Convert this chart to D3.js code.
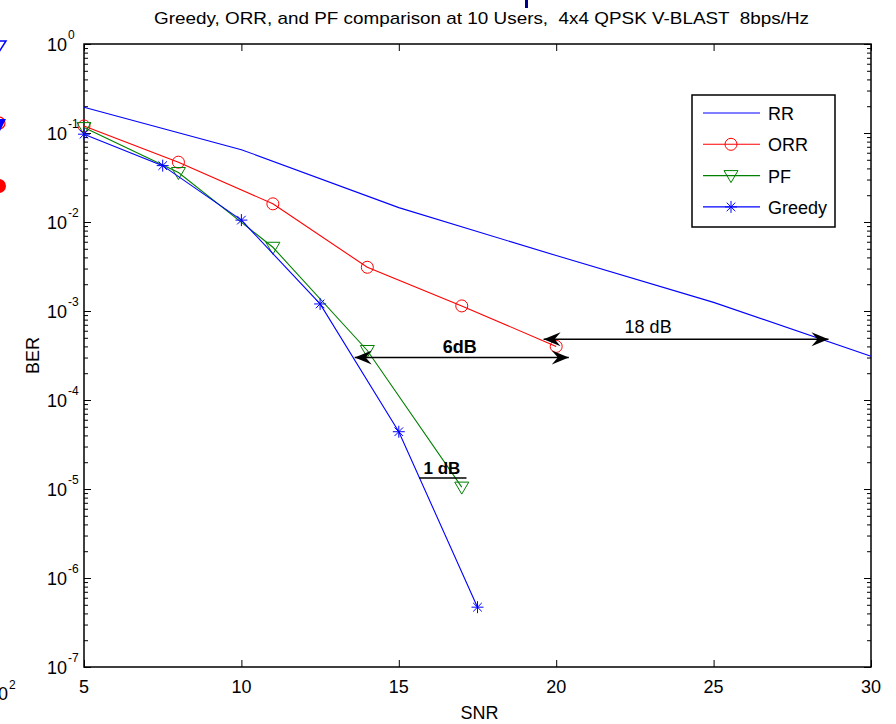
<!DOCTYPE html>
<html>
<head>
<meta charset="utf-8">
<script src="https://cdnjs.cloudflare.com/ajax/libs/d3/7.8.5/d3.min.js"></script>
<style>
body{margin:0;background:#fff;}
svg{display:block;font-family:"Liberation Sans",Arial,sans-serif;}
</style>
</head>
<body>
<svg width="896" height="724"></svg>
<script>
// values
var snrRR = [5, 10, 15, 20, 25, 30];
var berRR = [0.195, 0.065, 0.0145, 0.0042, 0.00125, 0.00031];
var snrORR = [5, 8, 11, 14, 17, 20];
var berORR = [0.12, 0.047, 0.016, 0.0031, 0.00114, 0.0004];
var snrPF = [5, 8, 11, 14, 17];
var berPF = [0.115, 0.036, 0.0052, 0.00036, 0.0000105];
var snrGreedy = [5, 7.5, 10, 12.5, 15, 17.5];
var berGreedy = [0.097, 0.043, 0.0105, 0.0012, 0.000044, 0.00000047];
var xTicks = [5, 10, 15, 20, 25, 30];
var yExps = [0, -1, -2, -3, -4, -5, -6, -7];
var legendNames = ["RR", "ORR", "PF", "Greedy"];
var titleText = "Greedy, ORR, and PF comparison at 10 Users,  4x4 QPSK V-BLAST  8bps/Hz";
// annotation arrows (snr from, snr to, ber level, label at snr)
var arrows = [
  {x1: 13.6, x2: 20.4, y: 3.0e-4, lx: 16.94, label: "6dB", bold: true},
  {x1: 19.6, x2: 28.65, y: 4.8e-4, lx: 22.92, label: "18 dB", bold: false}
];
var gapLine = {x1: 15.65, x2: 17.15, y: 1.33e-5, lx: 16.37, label: "1 dB"};

var svg = d3.select("svg"),
    plotL = 84, plotR = 871, plotT = 44, plotB = 667;

var x = d3.scaleLinear().domain([5, 30]).range([plotL, plotR]);
var y = d3.scaleLog().domain([1e-7, 1]).range([plotB, plotT]);

var line = d3.line()
    .x(function(d) { return x(d[0]); })
    .y(function(d) { return y(d[1]); });

// bits of the neighbouring figure that got caught at the left edge
var edge = svg.append("g");
edge.append("path").attr("d", "M-8,41L6,41L-1,52Z").attr("fill", "none").attr("stroke", "#0000ff").attr("stroke-width", 1.5);
edge.append("circle").attr("cx", -1).attr("cy", 123).attr("r", 6).attr("fill", "none").attr("stroke", "#ff0000").attr("stroke-width", 1.2);
edge.append("path").attr("d", "M-7,119L6,119L0,131Z").attr("fill", "#0000ff");
edge.append("circle").attr("cx", -1).attr("cy", 186).attr("r", 7).attr("fill", "#ff0000");
edge.append("text").attr("x", 8).attr("y", 700).attr("text-anchor", "end").attr("font-size", 18).text("10");
edge.append("text").attr("x", 9).attr("y", 689).attr("font-size", 12).text("2");
edge.append("rect").attr("x", 525).attr("y", 0).attr("width", 3).attr("height", 8).attr("fill", "#00008b");

// title
svg.append("text")
    .attr("x", (plotL + plotR) / 2 + 4)
    .attr("y", 24)
    .attr("text-anchor", "middle")
    .attr("font-size", 17)
    .attr("textLength", 655)
    .attr("lengthAdjust", "spacingAndGlyphs")
    .style("white-space", "pre")
    .text(titleText);

// frame
svg.append("rect")
    .attr("x", plotL).attr("y", plotT)
    .attr("width", plotR - plotL).attr("height", plotB - plotT)
    .attr("fill", "none").attr("stroke", "#000").attr("stroke-width", 1.5);

// x ticks, bottom and top, pointing inward
svg.append("g").attr("transform", "translate(0," + plotB + ")")
    .call(d3.axisBottom(x).tickValues(xTicks).tickSizeInner(-7).tickSizeOuter(0).tickFormat(""))
    .call(function(g) { g.select(".domain").remove(); });
svg.append("g").attr("transform", "translate(0," + plotT + ")")
    .call(d3.axisTop(x).tickValues(xTicks).tickSizeInner(-7).tickSizeOuter(0).tickFormat(""))
    .call(function(g) { g.select(".domain").remove(); });

svg.append("g").selectAll("text")
    .data(xTicks)
  .enter().append("text")
    .attr("x", function(d) { return x(d); })
    .attr("y", plotB + 26)
    .attr("text-anchor", "middle")
    .attr("font-size", 18)
    .text(function(d) { return d; });

// y ticks, major and minor, on both sides
var majors = yExps.map(function(e) { return Math.pow(10, e); });
var minors = [];
yExps.forEach(function(e) {
  if (e == 0) return;
  for (var k = 2; k < 10; k++) minors.push(k * Math.pow(10, e));
});
[[d3.axisLeft, plotL], [d3.axisRight, plotR]].forEach(function(a) {
  svg.append("g").attr("transform", "translate(" + a[1] + ",0)")
      .call(a[0](y).tickValues(majors).tickSizeInner(-7).tickSizeOuter(0).tickFormat(""))
      .call(function(g) { g.select(".domain").remove(); });
  svg.append("g").attr("transform", "translate(" + a[1] + ",0)")
      .call(a[0](y).tickValues(minors).tickSizeInner(-4).tickSizeOuter(0).tickFormat(""))
      .call(function(g) { g.select(".domain").remove(); });
});

var ylab = svg.append("g").selectAll("g")
    .data(yExps)
  .enter().append("g");
ylab.append("text")
    .attr("x", 67)
    .attr("y", function(d) { return y(Math.pow(10, d)) + 7; })
    .attr("text-anchor", "end")
    .attr("font-size", 18)
    .text("10");
ylab.append("text")
    .attr("x", 68)
    .attr("y", function(d) { return y(Math.pow(10, d)) - 5; })
    .attr("font-size", 12)
    .text(function(d) { return d; });

// axis titles
svg.append("text")
    .attr("x", (plotL + plotR) / 2 + 2)
    .attr("y", 719)
    .attr("text-anchor", "middle")
    .attr("font-size", 18)
    .text("SNR");
svg.append("text")
    .attr("transform", "translate(39," + ((plotT + plotB) / 2) + ") rotate(-90)")
    .attr("text-anchor", "middle")
    .attr("font-size", 18)
    .text("BER");

// markers
var circlePath = function(g) {
  g.append("circle").attr("r", 6).attr("fill", "none").attr("stroke", "#ff0000");
};
var triPath = function(g) {
  g.append("path").attr("d", "M-7,-5L7,-5L0,7Z").attr("fill", "none").attr("stroke", "#008000");
};
var starPath = function(g) {
  g.append("path").attr("d", "M-6,0H6M0,-6V6M-4.3,-4.3L4.3,4.3M-4.3,4.3L4.3,-4.3")
      .attr("fill", "none").attr("stroke", "#0000ff");
};

var series = [
  {name: "RR", snr: snrRR, ber: berRR, color: "#0000ff", marker: null},
  {name: "ORR", snr: snrORR, ber: berORR, color: "#ff0000", marker: circlePath},
  {name: "PF", snr: snrPF, ber: berPF, color: "#008000", marker: triPath},
  {name: "Greedy", snr: snrGreedy, ber: berGreedy, color: "#0000ff", marker: starPath}
];

var plot = svg.append("g");
series.forEach(function(s) {
  var pts = d3.zip(s.snr, s.ber);
  plot.append("path")
      .attr("d", line(pts))
      .attr("fill", "none")
      .attr("stroke", s.color)
      .attr("stroke-width", 1.1);
  if (s.marker) {
    plot.selectAll(null)
        .data(pts)
      .enter().append("g")
        .attr("transform", function(d) { return "translate(" + x(d[0]) + "," + y(d[1]) + ")"; })
        .each(function() { s.marker(d3.select(this)); });
  }
});

// annotations
function arrowHead(px, py, dir) {
  // matlab style swept-back head, tip at (px,py)
  return "M" + px + "," + py +
    "L" + (px - dir * 17) + "," + (py - 7) +
    "L" + (px - dir * 11) + "," + py +
    "L" + (px - dir * 17) + "," + (py + 7) + "Z";
}
var ann = svg.append("g");
arrows.forEach(function(a) {
  var ay = y(a.y);
  ann.append("line")
      .attr("x1", x(a.x1)).attr("x2", x(a.x2))
      .attr("y1", ay).attr("y2", ay)
      .attr("stroke", "#000").attr("stroke-width", 1.5);
  ann.append("path").attr("d", arrowHead(x(a.x2), ay, 1)).attr("fill", "#000");
  ann.append("path").attr("d", arrowHead(x(a.x1), ay, -1)).attr("fill", "#000");
  ann.append("text")
      .attr("x", x(a.lx)).attr("y", ay - (a.bold ? 5 : 6))
      .attr("text-anchor", "middle")
      .attr("font-size", 18)
      .attr("font-weight", a.bold ? "bold" : "normal")
      .text(a.label);
});
ann.append("line")
    .attr("x1", x(gapLine.x1)).attr("x2", x(gapLine.x2))
    .attr("y1", y(gapLine.y)).attr("y2", y(gapLine.y))
    .attr("stroke", "#000").attr("stroke-width", 1.5);
ann.append("text")
    .attr("x", x(gapLine.lx)).attr("y", y(gapLine.y) - 4)
    .attr("text-anchor", "middle")
    .attr("font-size", 17)
    .attr("font-weight", "bold")
    .text(gapLine.label);

// legend
var lg = svg.append("g");
lg.append("rect")
    .attr("x", 692).attr("y", 95).attr("width", 143).attr("height", 132)
    .attr("fill", "#fff").attr("stroke", "#000").attr("stroke-width", 1.5);
var item = lg.selectAll("g")
    .data(series)
  .enter().append("g")
    .attr("transform", function(d, i) { return "translate(0," + (113 + i * 31.3) + ")"; });
item.append("line")
    .attr("x1", 703).attr("x2", 760)
    .attr("stroke", function(d) { return d.color; })
    .attr("stroke-width", 1.1);
item.each(function(d) {
  if (d.marker) d.marker(d3.select(this).append("g").attr("transform", "translate(731,0)"));
});
item.append("text")
    .attr("x", 768).attr("y", 7)
    .attr("font-size", 18)
    .text(function(d, i) { return legendNames[i]; });
</script>
</body>
</html>
